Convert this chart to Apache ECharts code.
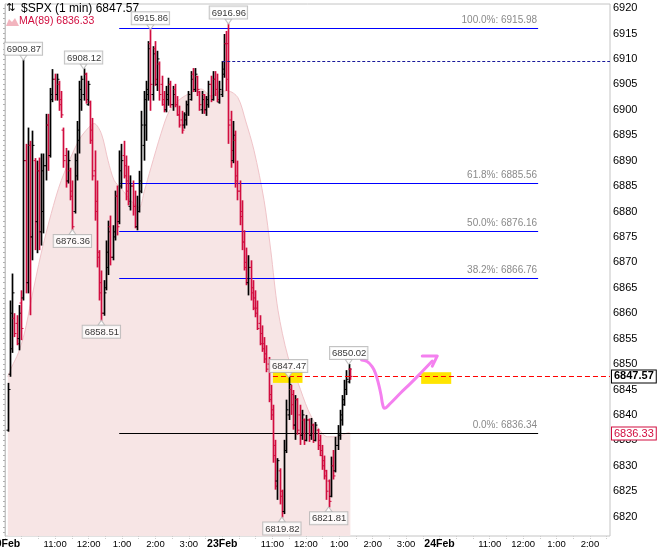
<!DOCTYPE html>
<html>
<head>
<meta charset="utf-8">
<script src="https://cdn.jsdelivr.net/npm/echarts@6/dist/echarts.min.js"></script>
<style>
html, body { margin: 0; padding: 0; background: #fff; }
#chart { width: 665px; height: 550px; }
</style>
</head>
<body>
<div id="chart"></div>
<script>
// minutes counted from 20 Feb 9:30, 390 trading minutes a day
const sessionLen = 390
const xMax = 1086
const yMin = 6816.19
const yMax = 6920.8

const dayNames = ['20Feb', '23Feb', '24Feb']
const hourOffsets = [90, 150, 210, 270, 330]
const hourNames = ['11:00', '12:00', '1:00', '2:00', '3:00']
const yLabelValues = [6820, 6825, 6830, 6835, 6840, 6845, 6850, 6855, 6860, 6865, 6870,
  6875, 6880, 6885, 6890, 6895, 6900, 6905, 6910, 6915, 6920]

// $SPX bars (one every ~4 minutes)
const barTimes = [5, 9, 13, 17, 21, 25, 29, 33, 37, 41,
  45, 49, 53, 57, 61, 65, 69, 73, 77, 81,
  85, 89, 93, 97, 101, 105, 109, 113, 117, 121,
  125, 129, 133, 137, 141, 145, 149, 153, 157, 161,
  165, 169, 173, 177, 181, 185, 189, 193, 197, 201,
  205, 209, 213, 217, 221, 225, 229, 233, 237, 241,
  245, 249, 253, 257, 261, 265, 269, 273, 277, 281,
  285, 289, 293, 297, 301, 305, 309, 313, 317, 321,
  325, 329, 333, 337, 341, 345, 349, 353, 357, 361,
  365, 369, 373, 377, 381, 385, 389, 393, 397, 401,
  405, 409, 413, 417, 421, 425, 429, 433, 437, 441,
  445, 449, 453, 457, 461, 465, 469, 473, 477, 481,
  485, 489, 493, 497, 501, 505, 509, 513, 517, 521,
  525, 529, 533, 537, 541, 545, 549, 553, 557, 561,
  565, 569, 573, 577, 581, 585, 589, 593, 597, 601,
  605, 609, 613, 617, 620]
const barOpen = [6837, 6848, 6853, 6859, 6858, 6855, 6862, 6863, 6890, 6866,
  6893, 6875, 6890, 6878, 6888, 6876, 6880, 6889, 6897, 6891,
  6902, 6906, 6903, 6905, 6902, 6896, 6891, 6886, 6888, 6884,
  6880, 6887, 6894, 6902, 6903, 6907, 6901, 6901.5, 6896, 6888,
  6882, 6871, 6866, 6860, 6865, 6869, 6877, 6871, 6875, 6883,
  6878, 6885, 6891, 6889, 6886, 6881, 6885, 6881, 6877, 6880,
  6884, 6893, 6897, 6903, 6913, 6903, 6912, 6905, 6909, 6905,
  6902, 6900, 6902, 6905, 6901, 6904, 6901, 6899, 6898, 6897,
  6898, 6901, 6902, 6907, 6904, 6906.5, 6903.5, 6900, 6903, 6900,
  6901, 6905, 6902, 6906, 6904, 6901.5, 6903, 6907, 6913, 6913,
  6898, 6890, 6894, 6887, 6884, 6880, 6874, 6870, 6866, 6869,
  6865, 6863, 6861, 6858, 6856, 6854, 6852, 6850, 6844, 6841,
  6834, 6827, 6829, 6825, 6821, 6833, 6840, 6845, 6844, 6838,
  6843, 6840, 6836, 6839, 6835, 6839, 6836, 6838, 6835, 6837,
  6835, 6833, 6831, 6829, 6827, 6824, 6830, 6829, 6834, 6836,
  6839, 6842, 6845, 6846.5, 6849]
const barClose = [6845, 6860, 6864, 6856, 6854, 6860, 6857, 6890, 6866, 6893,
  6875, 6893, 6878, 6888, 6876, 6888, 6889, 6897, 6891, 6903,
  6906, 6903, 6906, 6901, 6899, 6890, 6886, 6890, 6883, 6877,
  6890, 6896, 6904, 6906, 6907, 6902, 6905, 6894, 6887, 6880,
  6872, 6864, 6860, 6864, 6872, 6876, 6871, 6876, 6883, 6877,
  6888, 6890, 6887, 6884, 6882, 6885, 6881, 6877, 6880, 6886,
  6897, 6902, 6904, 6912, 6905, 6911, 6906, 6910, 6903, 6901,
  6900, 6903, 6905, 6901, 6903, 6901, 6899, 6897, 6896, 6899,
  6901, 6903, 6906, 6904, 6907, 6904, 6901, 6902, 6900, 6902,
  6905, 6902, 6906, 6904, 6902, 6904, 6908, 6913, 6906, 6897,
  6892, 6895, 6886, 6884, 6879, 6874, 6869, 6866, 6869, 6864,
  6861, 6860, 6857, 6854, 6853, 6851, 6849, 6843, 6840, 6832,
  6826, 6831, 6824, 6821, 6833, 6841, 6846, 6842, 6838, 6843,
  6837, 6836, 6840, 6835, 6839, 6836, 6838, 6835, 6838, 6834,
  6832, 6830, 6828, 6825, 6823, 6830, 6828, 6834, 6836, 6840,
  6843, 6845, 6847, 6849, 6847.57]
const barLow = [6836.7, 6847.5, 6852.2, 6855.3, 6853.7, 6852.7, 6854.7, 6862.5, 6863.9, 6863.9,
  6859.6, 6870.4, 6872.4, 6871.8, 6872.4, 6873.3, 6875.7, 6886.1, 6888, 6890.6,
  6901.5, 6901.8, 6901.8, 6899.8, 6898.4, 6888.6, 6884.7, 6885.5, 6882.2, 6876.36,
  6879.6, 6886.1, 6891.4, 6899.8, 6901.8, 6901.2, 6900.8, 6893.3, 6886.1, 6878.2,
  6869, 6862.5, 6858.51, 6859.5, 6864.5, 6867.5, 6869.4, 6870.4, 6874.3, 6875.3,
  6877.5, 6884.5, 6886.5, 6882.2, 6881.2, 6880.2, 6879.2, 6876.7, 6876.3, 6879.8,
  6883.6, 6890, 6893.9, 6901.8, 6899.8, 6901.8, 6904.7, 6903.7, 6901.8, 6900.8,
  6899.5, 6899.5, 6900.8, 6900.4, 6899.8, 6900.5, 6898.8, 6896.5, 6895.3, 6896.3,
  6896.9, 6898.8, 6901.8, 6903.5, 6903.5, 6902.7, 6899.8, 6899.2, 6899.2, 6898.8,
  6900.4, 6901.5, 6901.8, 6902.7, 6901.5, 6901.2, 6902.5, 6906.3, 6903.7, 6893.3,
  6888.6, 6889.5, 6884.7, 6882.2, 6877.3, 6872.4, 6868.4, 6865.5, 6863.5, 6862.5,
  6860.6, 6859.2, 6856.7, 6853.7, 6852.4, 6850.2, 6848.4, 6842.5, 6839, 6830.6,
  6825.3, 6823.3, 6822.4, 6819.82, 6820.5, 6832.5, 6839, 6840, 6837.1, 6835.1,
  6836.1, 6834.1, 6835.1, 6834.1, 6834.8, 6834.7, 6835.1, 6834.5, 6834.8, 6833.1,
  6831.9, 6829.2, 6827.3, 6823.3, 6821.81, 6823.8, 6827.3, 6828.7, 6833.1, 6835.1,
  6837.9, 6841.8, 6843.9, 6846.2, 6846.9]
const barHigh = [6846.3, 6862.5, 6867.8, 6860, 6859.6, 6861.6, 6864.5, 6909.87, 6893.3, 6896.5,
  6893.9, 6895.9, 6890.5, 6890, 6890.6, 6891.4, 6891.4, 6899.2, 6899.2, 6904.3,
  6908, 6907.1, 6907.1, 6905.7, 6903.7, 6896.5, 6892.5, 6892, 6888.6, 6886.1,
  6891.4, 6897.8, 6905.7, 6906.7, 6908.12, 6907.3, 6905.7, 6901.8, 6898.4, 6892,
  6886.1, 6872.4, 6868.4, 6866.5, 6874.3, 6878.2, 6879.2, 6877.3, 6884.1, 6885.1,
  6892, 6893.3, 6893.9, 6891, 6889, 6887.1, 6886.1, 6884.1, 6883.1, 6888,
  6899.8, 6903.7, 6905.7, 6913.5, 6915.86, 6912.5, 6913.5, 6911.6, 6909.5, 6906.7,
  6903.7, 6904.7, 6906.3, 6905.7, 6904.7, 6905.1, 6902.7, 6900.8, 6899.8, 6899.5,
  6901.8, 6903.7, 6907.6, 6908.2, 6908.2, 6906.7, 6903.7, 6903.7, 6903.1, 6902.7,
  6905.7, 6906.7, 6907.6, 6907.6, 6907.1, 6905.7, 6909.6, 6914.9, 6915.5, 6916.96,
  6899.8, 6897.8, 6895.9, 6890, 6886.1, 6882.2, 6876.3, 6872.9, 6871.4, 6870.4,
  6866.5, 6864.5, 6862.5, 6859.6, 6857.6, 6855.3, 6853.7, 6851.4, 6845.9, 6842,
  6835.1, 6831.5, 6829.5, 6825.3, 6835.1, 6843, 6847.47, 6845.9, 6844.9, 6843.9,
  6843.3, 6842, 6841, 6839.3, 6840, 6839.3, 6839.4, 6838.3, 6838.6, 6837.3,
  6836.1, 6834.1, 6832, 6829.2, 6827.3, 6831.8, 6833.1, 6835.7, 6838, 6841,
  6843.9, 6846.9, 6848.8, 6850.02, 6849.2]

// MA(89)
const maTimes = [5, 12, 24, 35, 47, 65, 83, 101, 132, 150,
  160, 173, 185, 196, 209, 227, 241, 250, 262, 280,
  295, 311, 329, 352, 370, 388, 400, 418, 432, 447,
  465, 477, 490, 508, 526, 544, 561, 579, 597, 617, 620]
const maValues = [6847.5, 6849.4, 6852.2, 6856.1, 6862.5, 6871.8, 6879.6, 6886.1, 6893.9, 6896.5,
  6897.3, 6895.3, 6890.0, 6886.1, 6884.5, 6882.0, 6880.8, 6884.0, 6888.6, 6895.3,
  6899.8, 6901.8, 6903.1, 6904.1, 6902.7, 6903.7, 6903.7, 6902.4, 6897.8, 6892.0,
  6882.2, 6872.4, 6860.6, 6851.4, 6846.3, 6841.0, 6837.6, 6835.7, 6835.7, 6836.5, 6836.33]

// marked highs / lows
const peakTimes = [33, 141, 261, 401, 121, 173, 509, 617, 497, 581]
const peakValues = [6909.87, 6908.12, 6915.86, 6916.96, 6876.36, 6858.51, 6847.47, 6850.02, 6819.82, 6821.81]
const peakSides = ['top', 'top', 'top', 'top', 'bottom', 'bottom', 'top', 'top', 'bottom', 'bottom']

// fibonacci retracement
const fibNames = ['100.0%', '61.8%', '50.0%', '38.2%', '0.0%']
const fibLevels = [6915.98, 6885.56, 6876.16, 6866.76, 6836.34]
const fibStart = 205
const fibEnd = 957

const prevClose = 6909.5
const prevCloseStart = 390
const lastClose = 6847.57
const lastCloseStart = 481
const lastMa = 6836.33

// yellow highlights
const hlStart = [481, 747]
const hlEnd = [534, 801]
const hlTop = [6848.8, 6848.4]
const hlBottom = [6846.3, 6846.1]

// pink hand drawn arrow
const arrowTimes = [640, 650, 659, 665, 671, 675, 678, 681, 692, 710, 728, 746, 767]
const arrowValues = [6850.8, 6850.5, 6849.5, 6848.2, 6845.9, 6843.9, 6842.0, 6841.3, 6842.3, 6844.3, 6846.2, 6848.2, 6850.6]
const headTimes = [749, 776, 767]
const headValues = [6851.6, 6851.6, 6849.6]

const RED = '#d10d3f'
const SANS = "'Liberation Sans', sans-serif"

var xLabelValues = []
var xTickValues = []
for (var d = 0; d < dayNames.length; d++) {
  xLabelValues.push(d * sessionLen)
  hourOffsets.forEach(function (h) {
    if (d * sessionLen + h <= xMax) xLabelValues.push(d * sessionLen + h)
  })
}
for (var t = 0; t <= xMax; t += 30) xTickValues.push(t)
var yTickValues = []
for (var v = 6817; v <= 6920; v++) yTickValues.push(v)

var bars = barTimes.map(function (t, i) {
  return [t, barOpen[i], barClose[i], barLow[i], barHigh[i]]
})
var ma = maTimes.map(function (t, i) { return [t, maValues[i]] })

function renderBar (params, api) {
  var t = api.value(0)
  var o = api.value(1), c = api.value(2)
  var pHi = api.coord([t, api.value(4)])
  var pLo = api.coord([t, api.value(3)])
  var pO = api.coord([t, o])
  var pC = api.coord([t, c])
  var color = c >= o ? '#000000' : RED
  var x = Math.round(pHi[0]) + 0.5
  return {
    type: 'group',
    children: [
      { type: 'line', shape: { x1: x, y1: pHi[1], x2: x, y2: pLo[1] }, style: { stroke: color, lineWidth: 1.7 } },
      { type: 'line', shape: { x1: x - 2, y1: pO[1], x2: x, y2: pO[1] }, style: { stroke: color, lineWidth: 1 } },
      { type: 'line', shape: { x1: x, y1: pC[1], x2: x + 2, y2: pC[1] }, style: { stroke: color, lineWidth: 1 } }
    ]
  }
}

function renderFib (params, api) {
  var i = api.value(3)
  var lv = api.value(2)
  var p1 = api.coord([api.value(0), lv])
  var p2 = api.coord([api.value(1), lv])
  var y = Math.floor(p1[1]) + 0.5
  var col = i === fibLevels.length - 1 ? '#000000' : '#0000ff'
  return {
    type: 'group',
    children: [
      { type: 'line', shape: { x1: p1[0], y1: y, x2: p2[0], y2: y }, style: { stroke: col, lineWidth: 1 } },
      { type: 'text', x: p2[0] - 1, y: y - 3,
        style: { text: fibNames[i] + ': ' + lv.toFixed(2), fill: '#8a8a8a',
          font: '10px ' + SANS, align: 'right', verticalAlign: 'bottom' } }
    ]
  }
}

function renderHighlight (params, api) {
  var a = api.coord([api.value(0), api.value(2)])
  var b = api.coord([api.value(1), api.value(3)])
  return { type: 'rect', shape: { x: a[0], y: a[1], width: b[0] - a[0], height: b[1] - a[1] },
    style: { fill: '#ffe500' } }
}

function seg (x1, v1, x2, v2, lineStyle, label) {
  return [
    { coord: [x1, v1], lineStyle: lineStyle, label: label || { show: false } },
    { coord: [x2, v2], lineStyle: lineStyle }
  ]
}

var lineMarks = []
lineMarks.push(seg(prevCloseStart, prevClose, xMax, prevClose, { color: '#1a1a9a', width: 1, type: [3, 2] }))
lineMarks.push(seg(lastCloseStart, lastClose, xMax, lastClose, { color: '#ff0000', width: 1.2, type: [5, 3] }, {
  show: true, position: 'end', distance: 2, formatter: lastClose.toFixed(2),
  color: '#000', fontWeight: 'bold', fontSize: 11, fontFamily: SANS,
  backgroundColor: '#fff', borderColor: '#000', borderWidth: 1, padding: [1, 2, 0, 2]
}))
lineMarks.push(seg(lastCloseStart, lastMa, xMax, lastMa, { color: 'rgba(0,0,0,0)', width: 1, type: 'solid' }, {
  show: true, position: 'end', distance: 2, formatter: lastMa.toFixed(2),
  color: RED, fontSize: 11, fontFamily: SANS,
  backgroundColor: '#fff', borderColor: RED, borderWidth: 1, padding: [1, 2, 0, 2]
}))

var peakData = peakTimes.map(function (t, i) {
  var up = peakSides[i] === 'top'
  return { value: [t, peakValues[i]], label: { position: peakSides[i] },
    symbolRotate: up ? 180 : 0, symbolOffset: [0, up ? -2 : 2] }
})

var chart = echarts.init(document.getElementById('chart'))
chart.setOption({
  animation: false,
  backgroundColor: '#ffffff',
  grid: { left: 5, right: 55, top: 4, bottom: 14, outerBoundsMode: 'none', containLabel: false,
    show: true, borderColor: '#c4c4c4', borderWidth: 1, backgroundColor: 'transparent' },
  xAxis: {
    type: 'value', min: 0, max: xMax,
    splitLine: { show: false },
    axisLine: { show: false },
    axisTick: { show: true, customValues: xTickValues, length: 3, lineStyle: { color: '#cccccc', type: 'dotted' } },
    axisLabel: {
      customValues: xLabelValues, margin: 3, color: '#000', fontSize: 9.5, fontFamily: SANS,
      showMinLabel: true, hideOverlap: false,
      formatter: function (v) {
        var d = Math.floor(v / sessionLen)
        var r = v - d * sessionLen
        if (r === 0) return '{d|' + dayNames[d] + '}'
        return hourNames[hourOffsets.indexOf(r)]
      },
      rich: { d: { fontWeight: 'bold', fontSize: 10.5, fontFamily: SANS, color: '#000' } }
    }
  },
  yAxis: {
    type: 'value', position: 'right', min: yMin, max: yMax,
    splitLine: { show: false },
    axisLine: { show: true, lineStyle: { color: '#c4c4c4' } },
    axisTick: { show: true, inside: true, length: 2, customValues: yTickValues, lineStyle: { color: '#b0b0b0' } },
    axisLabel: { customValues: yLabelValues, margin: 3, color: '#000', fontSize: 11, fontFamily: SANS,
      formatter: function (v) { return String(v) } }
  },
  graphic: [
    { type: 'text', left: 6, top: 3, style: { text: '⇅', font: '11px "DejaVu Sans"', fill: '#000' } },
    { type: 'text', left: 21, top: 3, style: { text: '$SPX (1 min) ' + lastClose.toFixed(2), font: '12px ' + SANS, fill: '#000' } },
    { type: 'polygon', shape: { points: [[6, 26], [9, 19], [12, 22], [15, 18], [19, 26]] }, style: { fill: '#f2b4be' } },
    { type: 'text', left: 19, top: 16, style: { text: 'MA(89) ' + lastMa.toFixed(2), font: '10.5px ' + SANS, fill: RED } }
  ],
  series: [
    {
      name: 'MA(89)', type: 'line', data: ma, z: 1, smooth: 0.3,
      symbol: 'none', lineStyle: { color: '#f0c4c9', width: 1 },
      areaStyle: { color: '#f7e5e5', origin: 'start', opacity: 1 }
    },
    {
      name: 'fib', type: 'custom', z: 2, renderItem: renderFib,
      encode: { x: [0, 1], y: 2 },
      data: fibLevels.map(function (lv, i) { return [fibStart, fibEnd, lv, i] })
    },
    {
      name: 'lines', type: 'line', data: [], z: 2, symbol: 'none',
      markLine: { silent: true, symbol: ['none', 'none'], data: lineMarks }
    },
    {
      name: 'highlight', type: 'custom', z: 3, renderItem: renderHighlight,
      encode: { x: [0, 1], y: [2, 3] },
      data: hlStart.map(function (s, i) { return [s, hlEnd[i], hlTop[i], hlBottom[i]] })
    },
    {
      name: '$SPX', type: 'custom', z: 4, renderItem: renderBar,
      encode: { x: 0, y: [1, 2, 3, 4] }, data: bars
    },
    {
      name: 'arrow', type: 'line', z: 5, smooth: 0.4, symbol: 'none',
      lineStyle: { color: '#f480ef', width: 3, cap: 'round', join: 'round' },
      data: arrowTimes.map(function (t, i) { return [t, arrowValues[i]] })
    },
    {
      name: 'arrowHead', type: 'line', z: 5, symbol: 'none',
      lineStyle: { color: '#f480ef', width: 3, cap: 'round', join: 'round' },
      data: headTimes.map(function (t, i) { return [t, headValues[i]] })
    },
    {
      name: 'peaks', type: 'scatter', z: 6, symbol: 'triangle', symbolSize: [7, 5],
      itemStyle: { color: '#ffffff', borderColor: '#b4b4b4', borderWidth: 1 },
      data: peakData,
      label: {
        show: true, distance: 0,
        formatter: function (p) { return p.value[1].toFixed(2) },
        color: '#000', fontSize: 9.5, fontFamily: SANS, lineHeight: 11,
        backgroundColor: '#ffffff', borderColor: '#b4b4b4', borderWidth: 1, padding: [1, 1, 0, 2]
      }
    }
  ]
})
</script>
</body>
</html>
